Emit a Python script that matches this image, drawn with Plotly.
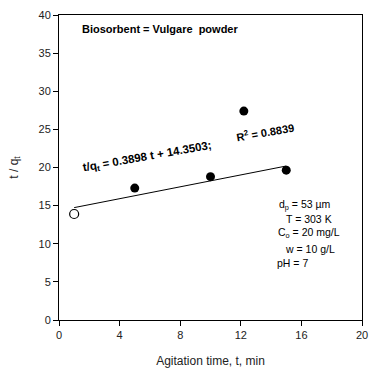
import plotly.graph_objects as go

# Data
t_open = [1]
q_open = [13.9]
t_fill = [5, 10, 12.2, 15]
q_fill = [17.3, 18.8, 27.4, 19.65]
slope = 0.3898
intercept = 14.3503
fit_x = [1, 15]
fit_y = [slope * x + intercept for x in fit_x]
x_ticks = [0, 4, 8, 12, 16, 20]
y_ticks = [0, 5, 10, 15, 20, 25, 30, 35, 40]

FONT = "Liberation Sans, Arial, sans-serif"

fig = go.Figure()
fig.add_trace(go.Scatter(x=fit_x, y=fit_y, mode="lines",
                         line=dict(color="black", width=1), showlegend=False))
fig.add_trace(go.Scatter(x=t_open, y=q_open, mode="markers",
                         marker=dict(symbol="circle-open", size=9, color="black",
                                     line=dict(width=1.2, color="black")),
                         showlegend=False))
fig.add_trace(go.Scatter(x=t_fill, y=q_fill, mode="markers",
                         marker=dict(symbol="circle", size=9, color="black"),
                         showlegend=False))

annotations = []
annotations.append(dict(x=1.4, y=38.2, xref="x", yref="y",
                        text="<b>Biosorbent = Vulgare  powder</b>",
                        xanchor="left", yanchor="middle", showarrow=False,
                        font=dict(family=FONT, size=11, color="black")))
annotations.append(dict(x=5.85, y=21.4, xref="x", yref="y",
                        text="<b>t/q<sub>t</sub> = 0.3898 t + 14.3503;</b>",
                        textangle=-10, showarrow=False,
                        font=dict(family=FONT, size=11.5, color="black")))
annotations.append(dict(x=13.6, y=24.6, xref="x", yref="y",
                        text="<b>R<sup>2</sup> = 0.8839</b>",
                        textangle=-10, showarrow=False,
                        font=dict(family=FONT, size=11, color="black")))
cond = [
    ("d<sub>p</sub> = 53 µm", 14.37, 15.1),
    ("T = 303 K", 14.83, 13.2),
    ("C<sub>o</sub> = 20 mg/L", 14.35, 11.4),
    ("w = 10 g/L", 14.79, 9.35),
    ("pH = 7", 14.24, 7.45),
]
for txt, xx, yy in cond:
    annotations.append(dict(x=xx, y=yy, xref="x", yref="y", text=txt,
                            xanchor="left", yanchor="middle", showarrow=False,
                            font=dict(family=FONT, size=10.5, color="black")))

fig.update_layout(
    width=369, height=369,
    margin=dict(l=59, r=7, t=15, b=49),
    paper_bgcolor="white", plot_bgcolor="white",
    font=dict(family=FONT, size=11, color="#222"),
    annotations=annotations,
    xaxis=dict(range=[0, 20], tickvals=x_ticks, ticks="outside", ticklen=5,
               tickcolor="black", showline=True, linecolor="black", linewidth=1,
               mirror=True, showgrid=False, zeroline=False, automargin=False,
               title=dict(text="Agitation time, t, min", standoff=16,
                          font=dict(size=12, color="#222"))),
    yaxis=dict(range=[0, 40], tickvals=y_ticks, ticks="outside", ticklen=5,
               tickcolor="black", showline=True, linecolor="black", linewidth=1,
               mirror=True, showgrid=False, zeroline=False, automargin=False,
               title=dict(text="t / q<sub>t</sub>", standoff=17,
                          font=dict(size=12, color="#222"))),
)

fig.write_html("out.html")
